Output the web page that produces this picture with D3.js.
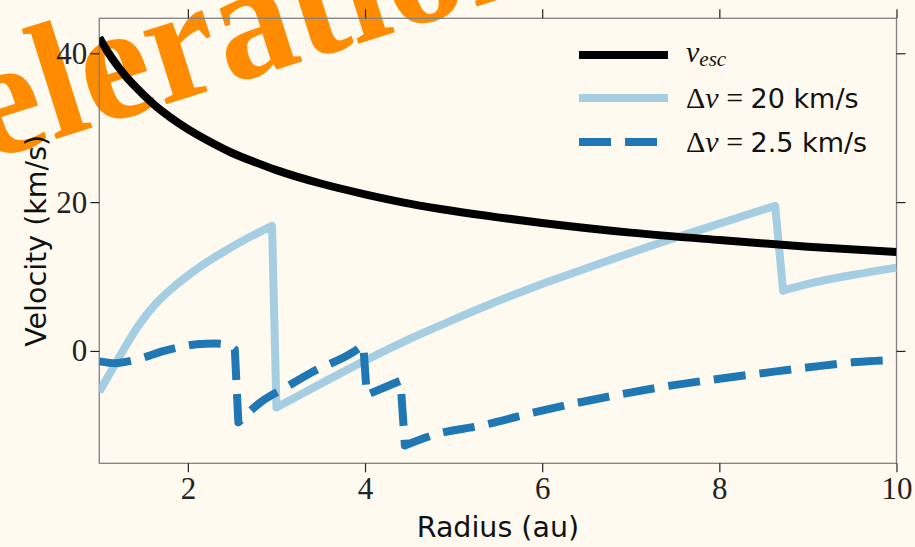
<!DOCTYPE html>
<html><head><meta charset="utf-8">
<script src="https://cdn.jsdelivr.net/npm/d3@7"></script>
<style>body{margin:0;background:#fffaf0;} svg{display:block}</style>
</head><body><svg id="c" width="915" height="547"></svg>
<script>
// ---- data ----
const escRadius = [1.0, 1.1, 1.2, 1.3, 1.4, 1.6, 1.8, 2.0, 2.25, 2.5, 2.75, 3.0, 3.5, 4.0, 4.5, 5.0, 5.5, 6.0, 7.0, 8.0, 9.0, 10.0];
const escVel    = [42.1, 40.1, 38.4, 36.9, 35.6, 33.3, 31.4, 29.8, 28.1, 26.6, 25.4, 24.3, 22.5, 21.05, 19.8, 18.8, 17.95, 17.2, 15.9, 14.9, 14.0, 13.3];

const dv20Radius = [1.0, 1.12, 1.27, 1.46, 1.65, 1.83, 2.02, 2.21, 2.40, 2.59, 2.78, 2.95, 3.0, 3.5, 4.0, 4.5, 5.0, 5.5, 6.0, 6.5, 7.0, 7.5, 8.0, 8.63, 8.72, 9.0, 9.5, 10.0];
const dv20Vel    = [-5.5, -3.0, 0.1, 3.7, 6.5, 8.5, 10.3, 11.9, 13.3, 14.6, 15.8, 16.8, -7.6, -4.4, -1.3, 1.6, 4.2, 6.7, 9.0, 11.1, 13.2, 15.2, 17.1, 19.5, 8.1, 9.0, 10.2, 11.2];
const dv20Jumps  = [12, 24];   // indices where the curve jumps

const dv25Radius = [1.0, 1.18, 1.37, 1.55, 1.7, 1.9, 2.1, 2.3, 2.45, 2.53, 2.57, 2.81, 3.12, 3.41, 3.86, 3.98, 4.02, 4.4, 4.45, 4.8, 5.32, 5.86, 6.39, 6.9, 7.43, 7.96, 8.48, 9.01, 9.54, 10.0];
const dv25Vel    = [-1.4, -1.65, -1.3, -0.7, -0.1, 0.5, 0.9, 1.0, 0.8, 0.2, -9.6, -7.0, -4.8, -2.8, -0.2, 0.8, -5.9, -4.0, -12.7, -11.2, -10.0, -8.4, -7.0, -5.8, -4.7, -3.8, -3.0, -2.2, -1.5, -1.2];
const dv25Jumps  = [10, 16, 18];

const xTicks = [2, 4, 6, 8, 10];
const yTicks = [0, 20, 40];
const xLabel = "Radius (au)";
const yLabel = "Velocity (km/s)";
const watermark = "Acceleration";

// ---- layout ----
const svg = d3.select("#c");
const L = 99.3, R = 896.5, T = 18.3, B = 463.3;
const x = d3.scaleLinear().domain([1, 10]).range([L, R]);
const y = d3.scaleLinear().domain([-15.1, 44.7]).range([B, T]);

svg.append("rect").attr("width", 915).attr("height", 547).attr("fill", "#fffaf0");

// watermark text: placed so that "l…o" spans the same stretch as in the reference
const wm = svg.append("text")
  .attr("x", 0).attr("y", 0)
  .attr("font-family", "Liberation Serif")
  .attr("font-weight", "bold")
  .attr("font-size", 166)
  .attr("fill", "#ff8c00")
  .text(watermark);
{
  const n = wm.node();
  const s4 = n.getStartPositionOfChar(4).x;
  const e10 = n.getEndPositionOfChar(10).x;
  const sx = 440 / (e10 - s4);
  wm.attr("transform", `translate(53,140) rotate(-17.5) scale(${sx},1) translate(${-s4},0)`);
}

// frame
svg.append("rect").attr("x", L).attr("y", T).attr("width", R - L).attr("height", B - T)
  .attr("fill", "none").attr("stroke", "#808080").attr("stroke-width", 1.3);

const tickStyle = g => {
  g.select(".domain").remove();
  g.selectAll(".tick line").attr("stroke", "#222").attr("stroke-width", 1.2);
  g.selectAll(".tick text").attr("font-family", "Liberation Serif").attr("font-size", 31).attr("fill", "#222");
};
svg.append("g").attr("transform", `translate(0,${B})`)
  .call(d3.axisBottom(x).tickValues(xTicks).tickSize(9).tickPadding(5).tickFormat(d3.format("d"))).call(tickStyle);
svg.append("g").attr("transform", `translate(0,${T})`)
  .call(d3.axisTop(x).tickValues(xTicks).tickSize(9).tickFormat("")).call(tickStyle);
svg.append("g").attr("transform", `translate(${L},0)`)
  .call(d3.axisLeft(y).tickValues(yTicks).tickSize(9).tickPadding(3).tickFormat(d3.format("d"))).call(tickStyle);
svg.append("g").attr("transform", `translate(${R},0)`)
  .call(d3.axisRight(y).tickValues(yTicks).tickSize(9).tickFormat("")).call(tickStyle);

// axis labels
svg.append("text").attr("x", (L + R) / 2).attr("y", 537).attr("text-anchor", "middle")
  .attr("font-family", "DejaVu Sans").attr("font-size", 28.5).attr("fill", "#111").text(xLabel);
svg.append("text").attr("transform", `translate(46,${(T + B) / 2}) rotate(-90)`).attr("text-anchor", "middle")
  .attr("font-family", "DejaVu Sans").attr("font-size", 28.5).attr("fill", "#111").text(yLabel);

// lines
svg.append("clipPath").attr("id", "clip").append("rect").attr("x", L).attr("y", T).attr("width", R - L).attr("height", B - T);
const line = d3.line().x(d => x(d[0])).y(d => y(d[1])).curve(d3.curveMonotoneX);
function piecewisePath(rs, vs, jumps) {
  const pts = rs.map((r, i) => [r, vs[i]]);
  const cuts = [0, ...jumps, pts.length];
  const parts = [];
  for (let k = 0; k < cuts.length - 1; k++) parts.push(pts.slice(cuts[k], cuts[k + 1]));
  return parts.map((p, i) => { const s = line(p); return i ? s.replace(/^M/, "L") : s; }).join("");
}
const plot = svg.append("g").attr("clip-path", "url(#clip)");
const series = [
  {d: piecewisePath(dv20Radius, dv20Vel, dv20Jumps), color: "#a6cee3", dash: null},
  {d: piecewisePath(dv25Radius, dv25Vel, dv25Jumps), color: "#1f78b4", dash: "32,14"},
  {d: piecewisePath(escRadius, escVel, []), color: "#000000", dash: null}
];
series.forEach(s => {
  plot.append("path").attr("d", s.d).attr("fill", "none").attr("stroke", s.color).attr("stroke-width", 8)
    .attr("stroke-linejoin", "round").attr("stroke-dasharray", s.dash);
});

// legend
const leg = svg.append("g");
const legRows = [
  {color: "#000000", dash: null, y: 55},
  {color: "#a6cee3", dash: null, y: 98},
  {color: "#1f78b4", dash: "32,14", y: 142}
];
legRows.forEach(r => {
  leg.append("line").attr("x1", 579).attr("x2", 668).attr("y1", r.y).attr("y2", r.y)
    .attr("stroke", r.color).attr("stroke-width", 8).attr("stroke-dasharray", r.dash);
});
const t0 = leg.append("text").attr("x", 686).attr("y", 62).attr("font-size", 30).attr("fill", "#111");
t0.append("tspan").attr("font-family", "Liberation Serif").attr("font-style", "italic").text("v");
t0.append("tspan").attr("font-family", "Liberation Serif").attr("font-style", "italic").attr("font-size", 21).attr("dy", 4).text("esc");

function dvLabel(yy, val) {
  const t = leg.append("text").attr("x", 686).attr("y", yy).attr("font-size", 30).attr("fill", "#111").attr("xml:space", "preserve");
  t.append("tspan").attr("font-family", "Liberation Serif").text("Δ");
  t.append("tspan").attr("font-family", "Liberation Serif").attr("font-style", "italic").text("v");
  t.append("tspan").attr("font-family", "Liberation Serif").text(" = ");
  t.append("tspan").attr("font-family", "DejaVu Sans").attr("font-size", 27).text(val + " km/s");
}
dvLabel(108, "20");
dvLabel(152, "2.5");
</script>
</body></html>
